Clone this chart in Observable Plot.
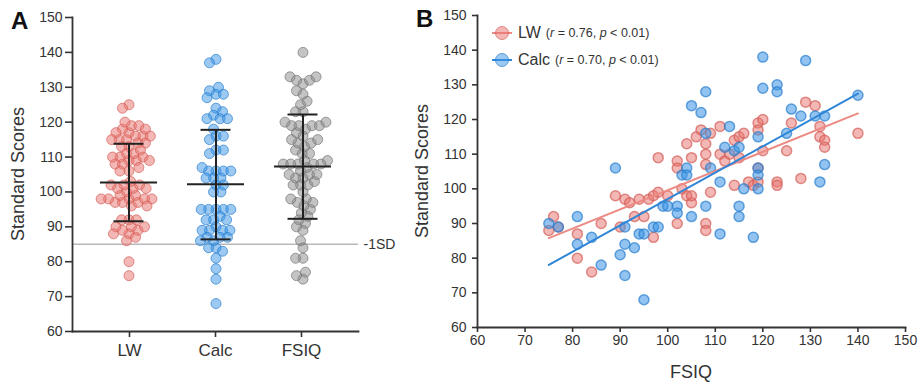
<!DOCTYPE html>
<html>
<head>
<meta charset="utf-8">
<script src="https://cdn.jsdelivr.net/npm/d3@7"></script>
<script src="https://cdn.jsdelivr.net/npm/@observablehq/plot@0.6"></script>
<style>
  body { margin: 0; background: #fff; font-family: "Liberation Sans", Arial, sans-serif; }
  #chart { position: relative; width: 920px; height: 385px; overflow: hidden; background: #fff; }
  .layer { position: absolute; top: 0; }
  .layer svg { display: block; background: transparent !important; }
  .tag { position: absolute; font-weight: bold; font-size: 24px; line-height: 1; color: #111; }
  .ylab { position: absolute; font-size: 18px; color: #333; white-space: nowrap; transform: translate(-50%, -50%) rotate(-90deg); }
  .xlab { position: absolute; font-size: 18px; color: #333; white-space: nowrap; transform: translate(-50%, -50%); }
  .legend { position: absolute; left: 490px; top: 19px; color: #333; }
  .legend .row { display: flex; align-items: center; height: 27px; white-space: nowrap; }
  .legend svg { display: block; margin-right: 4px; }
  .legend .nm { font-size: 16px; margin-right: 5px; }
  .legend .st { font-size: 12.5px; }
</style>
</head>
<body>
<div id="chart"></div>
<script>
// ---------- data ----------
const groups = ["LW", "Calc", "FSIQ"];
const groupMean = [102.7, 102.2, 107.3];
const groupLow = [91.6, 86.4, 92.3];
const groupHigh = [113.8, 117.8, 122.2];
const sdCutoff = 85;
const sdLabel = "-1SD";
const scoreTicks = [60, 70, 80, 90, 100, 110, 120, 130, 140, 150];
const fsiqTicks = [60, 70, 80, 90, 100, 110, 120, 130, 140, 150];

// LW: (FSIQ, LW standard score)
const lwFsiq = [75,76,77,81,81,84,86,89,90,91,92,93,94,95,96,97,97,98,98,100,102,102,102,103,104,104,105,105,105,106,107,108,108,108,108,108,109,109,111,111,112,113,114,114,115,115,116,117,118,119,119,119,119,120,120,123,123,125,126,128,129,131,132,132,133,133,140];
const lwScore = [88,92,89,87,80,76,90,98,89,97,96,92,97,92,97,86,98,99,109,98,90,108,106,100,98,113,96,109,98,115,117,113,110,107,90,88,99,116,118,110,108,110,114,101,109,115,116,102,101,119,117,106,102,120,111,102,101,111,119,103,125,124,118,115,114,112,116];

// Calc: (FSIQ, Calc standard score)
const calcFsiq = [75,77,81,81,84,86,89,90,91,91,91,93,94,95,95,97,98,99,100,102,102,103,104,104,105,105,107,108,108,108,109,111,111,112,113,114,115,115,115,116,118,119,119,119,119,120,120,123,123,125,126,128,129,131,132,133,133,140];
const calcScore = [90,89,92,84,86,78,106,81,84,89,75,83,87,87,68,89,89,95,95,95,93,104,106,104,92,124,122,128,116,95,106,87,102,112,118,111,95,92,112,100,86,115,106,104,100,138,129,130,128,116,123,121,137,121,102,121,107,127];

const legendNames = ["LW", "Calc"];
const legendR = ["0.76", "0.70"];
const legendP = ["0.01", "0.01"];

// ---------- styles ----------
const fills = { LW: "#e8716b", Calc: "#3a93e6", FSIQ: "#8a8a8a" };
const strokes = { LW: "#d45e58", Calc: "#2a7fcf", FSIQ: "#777777" };
const lineColors = { LW: "#ec8a84", Calc: "#2f86d6" };
const font = '"Liberation Sans", Arial, sans-serif';

// ---------- derived tables ----------
const swarm = [
  ...lwScore.map(v => ({ group: "LW", value: v })),
  ...calcScore.map(v => ({ group: "Calc", value: v })),
  ...lwFsiq.map(v => ({ group: "FSIQ", value: v }))
];
const stats = groups.map((g, i) => ({ group: g, mean: groupMean[i], lo: groupLow[i], hi: groupHigh[i] }));
const lwPts = lwFsiq.map((f, i) => ({ fsiq: f, score: lwScore[i] }));
const calcPts = calcFsiq.map((f, i) => ({ fsiq: f, score: calcScore[i] }));

const chart = document.getElementById("chart");
function layer(svg, left) {
  const d = document.createElement("div");
  d.className = "layer";
  d.style.left = left + "px";
  d.appendChild(svg);
  chart.appendChild(d);
}
function html(cls, text, css) {
  const d = document.createElement("div");
  d.className = cls;
  d.textContent = text;
  Object.assign(d.style, css);
  chart.appendChild(d);
}

// ---------- Panel A: axes layer ----------
const aAxes = Plot.plot({
  width: 420, height: 385,
  marginLeft: 72, marginRight: 62, marginTop: 17, marginBottom: 54,
  style: { fontFamily: font, fontSize: "14px", color: "#333", background: "transparent" },
  x: { type: "point", domain: groups, padding: 0.644 },
  y: { domain: [60, 150] },
  marks: [
    Plot.ruleY([sdCutoff], { stroke: "#b9b9b9", strokeWidth: 1.5 }),
    Plot.text([sdLabel], { y: sdCutoff, frameAnchor: "right", dx: 5, textAnchor: "start", fontSize: 14, fill: "#333" }),
    Plot.axisY(scoreTicks, { tickSize: 7, tickPadding: 3, fontSize: 14, strokeWidth: 1.6, label: null }),
    Plot.axisX({ tickSize: 6, tickPadding: 6, fontSize: 17, strokeWidth: 1.6, label: null }),
    Plot.frame({ anchor: "left", stroke: "#333", strokeWidth: 1.8 }),
    Plot.frame({ anchor: "bottom", stroke: "#333", strokeWidth: 1.8 })
  ]
});
layer(aAxes, 0);

// ---------- Panel A: swarm layer ----------
const aSwarm = Plot.plot({
  width: 420, height: 385,
  marginLeft: 84.5, marginRight: 74.5, marginTop: 17, marginBottom: 54,
  style: { fontFamily: font, background: "transparent" },
  fx: { domain: groups, padding: 0, axis: null, label: null },
  x: { domain: [-1, 1], axis: null },
  y: { domain: [60, 150], axis: null },
  marks: [
    ...groups.map(g => Plot.dot(swarm.filter(d => d.group === g), Plot.dodgeX({ anchor: "middle", padding: -2.6 }, {
      fx: "group", y: "value", r: 5,
      fill: fills[g], fillOpacity: 0.5, stroke: strokes[g], strokeOpacity: 0.7, strokeWidth: 1
    }))),
    Plot.ruleX(stats, { fx: "group", x: () => 0, y1: "lo", y2: "hi", stroke: "#222", strokeWidth: 2 }),
    Plot.tickY(stats, { fx: "group", y: "mean", insetLeft: 15, insetRight: 15, stroke: "#222", strokeWidth: 2 }),
    Plot.tickY(stats, { fx: "group", y: "lo", insetLeft: 28.5, insetRight: 28.5, stroke: "#222", strokeWidth: 2 }),
    Plot.tickY(stats, { fx: "group", y: "hi", insetLeft: 28.5, insetRight: 28.5, stroke: "#222", strokeWidth: 2 })
  ]
});
layer(aSwarm, 0);

// ---------- Panel B ----------
const b = Plot.plot({
  width: 500, height: 385,
  marginLeft: 57, marginRight: 15, marginTop: 15, marginBottom: 58,
  style: { fontFamily: font, fontSize: "14px", color: "#333", background: "transparent" },
  x: { domain: [60, 150] },
  y: { domain: [60, 150] },
  marks: [
    Plot.axisY(scoreTicks, { tickSize: 5, tickPadding: 6, fontSize: 14, strokeWidth: 1.6, label: null }),
    Plot.axisX(fsiqTicks, { tickSize: 5, tickPadding: 3, fontSize: 14, strokeWidth: 1.6, label: null }),
    Plot.frame({ anchor: "left", stroke: "#333", strokeWidth: 1.8 }),
    Plot.frame({ anchor: "bottom", stroke: "#333", strokeWidth: 1.8 }),
    Plot.dot(lwPts, { x: "fsiq", y: "score", r: 5, fill: fills.LW, fillOpacity: 0.5, stroke: strokes.LW, strokeOpacity: 0.7 }),
    Plot.dot(calcPts, { x: "fsiq", y: "score", r: 5, fill: fills.Calc, fillOpacity: 0.55, stroke: strokes.Calc, strokeOpacity: 0.7 }),
    Plot.linearRegressionY(lwPts, { x: "fsiq", y: "score", ci: 0, stroke: lineColors.LW, strokeWidth: 2 }),
    Plot.linearRegressionY(calcPts, { x: "fsiq", y: "score", ci: 0, stroke: lineColors.Calc, strokeWidth: 2 })
  ]
});
layer(b, 420);

// ---------- text ----------
html("tag", "A", { left: "11px", top: "9px" });
html("tag", "B", { left: "416px", top: "7px" });
html("ylab", "Standard Scores", { left: "18px", top: "174px" });
html("ylab", "Standard Scores", { left: "422px", top: "171px" });
html("xlab", "FSIQ", { left: "691px", top: "372px" });

// legend
const leg = document.createElement("div");
leg.className = "legend";
legendNames.forEach((name, i) => {
  const row = document.createElement("div");
  row.className = "row";
  const ns = "http://www.w3.org/2000/svg";
  const s = document.createElementNS(ns, "svg");
  s.setAttribute("width", 24); s.setAttribute("height", 16);
  const ln = document.createElementNS(ns, "line");
  ln.setAttribute("x1", 2); ln.setAttribute("x2", 22); ln.setAttribute("y1", 8); ln.setAttribute("y2", 8);
  ln.setAttribute("stroke", lineColors[name]); ln.setAttribute("stroke-width", 2);
  const c = document.createElementNS(ns, "circle");
  c.setAttribute("cx", 12); c.setAttribute("cy", 8); c.setAttribute("r", 6.5);
  c.setAttribute("fill", fills[name]); c.setAttribute("fill-opacity", 0.5);
  c.setAttribute("stroke", strokes[name]); c.setAttribute("stroke-opacity", 0.7);
  s.appendChild(ln); s.appendChild(c);
  row.appendChild(s);
  const nm = document.createElement("span");
  nm.className = "nm"; nm.textContent = name;
  row.appendChild(nm);
  const st = document.createElement("span");
  st.className = "st";
  st.innerHTML = "(<i>r</i> = " + legendR[i] + ", <i>p</i> &lt; " + legendP[i] + ")";
  row.appendChild(st);
  leg.appendChild(row);
});
chart.appendChild(leg);
</script>
</body>
</html>
